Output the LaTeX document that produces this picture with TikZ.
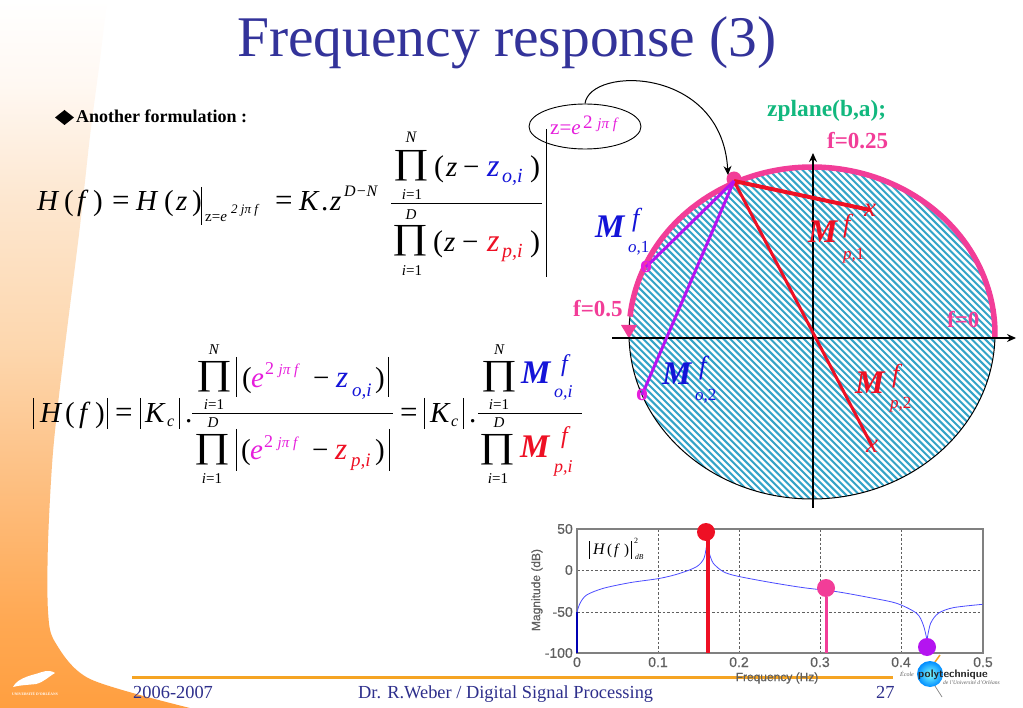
\documentclass[tikz,border=0pt]{standalone}
\usepackage{fontspec}
\setmainfont{Liberation Serif}
\newfontfamily\sansf[BoldFont=Liberation Sans,BoldFeatures={FakeBold=0.5}]{Liberation Sans}
\usetikzlibrary{arrows.meta,shapes.geometric}
\definecolor{ttl}{HTML}{33339A}
\definecolor{mg}{HTML}{E61EDC}
\definecolor{bl}{HTML}{1414D8}
\definecolor{rd}{HTML}{EE1024}
\definecolor{pk}{HTML}{F23D98}
\definecolor{pu}{HTML}{B414F0}
\definecolor{gn}{HTML}{12B87E}
\definecolor{ht}{HTML}{34A4C8}
\definecolor{nv}{HTML}{2E2F8C}
\definecolor{og}{HTML}{F5A423}
\definecolor{gy}{HTML}{606060}
\definecolor{bga}{HTML}{FF9F40}
\definecolor{bgc}{HTML}{FFA852}
\definecolor{bgd}{HTML}{FDC48B}
\definecolor{bge}{HTML}{FDD6AC}
\definecolor{bgf}{HTML}{FDE7D0}
\definecolor{bgg}{HTML}{FFF8F2}
\pgfdeclareverticalshading{slidebg}{100bp}{color(0bp)=(bga); color(25bp)=(bga); color(31bp)=(bgc); color(43bp)=(bgd); color(50bp)=(bge); color(61bp)=(bgf); color(69bp)=(bgg); color(75bp)=(white); color(100bp)=(white)}
\pgfdeclarelayer{top}
\pgfsetlayers{main,top}
\newcommand\tx[6][base west]{\node[anchor=#1,inner sep=0pt,text=#5,font=\fontsize{#4}{#4}\selectfont] (#2) at (#3) {#6};}
\newcommand\ix[6][base west]{\node[anchor=#1,inner sep=0pt,text=#5,font=\fontsize{#4}{#4}\selectfont\itshape] (#2) at (#3) {#6};}
% product sign: name, centre x, baseline y
\newcommand\prd[3]{\node[anchor=base,inner sep=0pt,font=\fontsize{44}{44}\selectfont] (#1) at (#2,#3) {\scalebox{1}[0.8]{∏}};}
\tikzset{
  vbar/.style={line width=0.9pt,black},
  fracbar/.style={line width=0.9pt,black},
  axisline/.style={line width=1.2pt,black,-{Stealth[length=9pt,width=8pt]}},
  dotmark/.style={circle,inner sep=0pt,minimum size=18pt},
  polemark/.style={inner sep=0pt,text=rd,font=\fontsize{27}{27}\selectfont\itshape},
  zeromark/.style={inner sep=0pt,text=mg,font=\fontsize{24}{24}\selectfont\bfseries},
}
\begin{document}
\begin{tikzpicture}[x=1pt,y=-1pt]
\useasboundingbox (0,0) rectangle (1023,708);
% slide background
\fill[white] (0,0) rectangle (1023,708);
\shade[shading=slidebg]
  (0,0) -- (107,0) -- plot[smooth] coordinates {(100,60) (90,136) (80,226) (63,362) (53,452) (48,543) (48,611) (55,642) (90,679) (190,708)} -- (0,708) -- cycle;
% university logo
\fill[white] (13,687) .. controls (18,677) and (34,675) .. (42,672) .. controls (48,670) and (52,671) .. (55,673) .. controls (48,677) and (44,682) .. (36,684) .. controls (28,685) and (20,685) .. (13,687) -- cycle;
\tx[base]{ulogo}{35,695}{3.7}{white}{\bfseries UNIVERSITÉ D'ORLÉANS}
% title
\tx[base]{title}{507,57}{57.5}{ttl}{Frequency response (3)}
% bullet
\fill[black] (55,117.5) -- (64.5,110) -- (74,117.5) -- (64.5,125) -- cycle;
\tx{bullet}{76,123}{18}{black}{\bfseries Another formulation :}
% ---- equation 1
\ix{aH}{37,211}{29}{black}{H}
\tx{ap}{64,211}{29}{black}{(}
\ix{af}{77,211}{29}{black}{f}
\tx{aq}{93,211}{29}{black}{)}
\tx{ae}{112,211}{31}{black}{=}
\ix{bH}{136,211}{29}{black}{H}
\tx{bp}{164,211}{29}{black}{(}
\ix{bz}{176,211}{29}{black}{z}
\tx{bq}{192,211}{29}{black}{)}
\coordinate (ba) at (201.5,187); \coordinate (bb) at (201.5,225);
\draw[vbar] (ba) -- (bb);
\tx{sz}{205,222}{15}{black}{z=\itshape e}
\ix{ss}{231,214}{13}{black}{2 jπ f}
\tx{ce}{275,211}{31}{black}{=}
\ix{cK}{299,211}{29}{black}{K}
\tx{cd}{321,211}{29}{black}{.}
\ix{cz}{330,211}{29}{black}{z}
\ix{cs}{344,197}{16}{black}{D−N}
\coordinate (fa) at (391,203); \coordinate (fb) at (542,203);
\draw[fracbar] (fa) -- (fb);
\ix[base]{nN}{411,143}{16}{black}{N}
\prd{nP}{411}{173.5}
\ix[base]{ni}{412,200}{15}{black}{i\upshape =1}
\tx{np}{434,177}{30}{black}{(}
\ix{nz}{446,177}{29}{black}{z}
\tx{nm}{463,177}{29}{black}{−}
\ix{nzz}{487,177}{32}{bl}{z}
\ix{nsb}{502,183}{20}{bl}{o,i}
\tx{nq}{530,177}{30}{black}{)}
\ix[base]{dD}{411,220}{15}{black}{D}
\prd{dP}{410}{249}
\ix[base]{di}{412,276}{15}{black}{i\upshape =1}
\tx{dp}{433,252}{30}{black}{(}
\ix{dz}{444,252}{29}{black}{z}
\tx{dm}{462,252}{29}{black}{−}
\ix{dzz}{487,252}{32}{rd}{z}
\ix{dsb}{502,258}{20}{rd}{p,i}
\tx{dq}{530,252}{30}{black}{)}
\coordinate (va) at (546,129); \coordinate (vb) at (546,277);
\draw[vbar] (va) -- (vb);
% ellipse with z=e^..
\node[ellipse,draw=black,line width=0.9pt,minimum width=112pt,minimum height=45pt,inner sep=0pt] (ell) at (585,126.5) {};
\tx{ez}{550,135}{21}{mg}{z=\itshape e}
\ix{es}{583,129}{19}{mg}{\upshape 2\itshape\ \fontsize{15}{15}\selectfont jπ f}
% ---- equation 2
\coordinate (l1a) at (33.6,398); \coordinate (l1b) at (33.6,429);
\draw[vbar] (l1a) -- (l1b);
\ix{eH}{40,423}{29}{black}{H}
\tx{ep}{65,423}{29}{black}{(}
\ix{ef}{79,423}{29}{black}{f}
\tx{eq}{95,423}{29}{black}{)}
\coordinate (l2a) at (107.5,398); \coordinate (l2b) at (107.5,429);
\draw[vbar] (l2a) -- (l2b);
\tx{fe}{115,423}{31}{black}{=}
\coordinate (l3a) at (140,398); \coordinate (l3b) at (140,429);
\draw[vbar] (l3a) -- (l3b);
\ix{fK}{145,423}{29}{black}{K}
\ix{fc}{167,427}{16}{black}{c}
\coordinate (l4a) at (179,398); \coordinate (l4b) at (179,429);
\draw[vbar] (l4a) -- (l4b);
\tx{fd}{185,423}{29}{black}{.}
\coordinate (g1) at (192,413); \coordinate (g2) at (393,413);
\draw[fracbar] (g1) -- (g2);
\ix[base]{gN}{214,355}{15}{black}{N}
\prd{gP}{214}{385}
\ix[base]{gi}{214,410}{15}{black}{i\upshape =1}
\coordinate (l5a) at (236,357); \coordinate (l5b) at (236,397);
\draw[vbar] (l5a) -- (l5b);
\tx{gp}{242,388}{29}{black}{(}
\ix{ge}{251,388}{29}{mg}{e}
\ix{gs}{265,375}{18}{mg}{\upshape 2\itshape\ \fontsize{15}{15}\selectfont jπ f}
\tx{gm}{313,388}{29}{black}{−}
\ix{gz}{336,388}{31}{bl}{z}
\ix{gb}{352,397}{19}{bl}{o,i}
\tx{gq}{375,388}{29}{black}{)}
\coordinate (l6a) at (388,357); \coordinate (l6b) at (388,397);
\draw[vbar] (l6a) -- (l6b);
\ix[base]{hD}{213,428}{15}{black}{D}
\prd{hP}{212}{457}
\ix[base]{hi}{212,483}{15}{black}{i\upshape =1}
\coordinate (l7a) at (236,429); \coordinate (l7b) at (236,471);
\draw[vbar] (l7a) -- (l7b);
\tx{hp}{241,460}{29}{black}{(}
\ix{he}{250,460}{29}{mg}{e}
\ix{hs}{264,447}{18}{mg}{\upshape 2\itshape\ \fontsize{15}{15}\selectfont jπ f}
\tx{hm}{312,460}{29}{black}{−}
\ix{hz}{335,460}{31}{rd}{z}
\ix{hb}{351,467}{19}{rd}{p,i}
\tx{hq}{375,460}{29}{black}{)}
\coordinate (l8a) at (389,429); \coordinate (l8b) at (389,471);
\draw[vbar] (l8a) -- (l8b);
\tx{ie}{400,423}{31}{black}{=}
\coordinate (l9a) at (424,398); \coordinate (l9b) at (424,429);
\draw[vbar] (l9a) -- (l9b);
\ix{iK}{430,423}{29}{black}{K}
\ix{ic}{451,427}{16}{black}{c}
\coordinate (l10a) at (463,398); \coordinate (l10b) at (463,429);
\draw[vbar] (l10a) -- (l10b);
\tx{id}{469,423}{29}{black}{.}
\coordinate (j1) at (478,413); \coordinate (j2) at (582,413);
\draw[fracbar] (j1) -- (j2);
\ix[base]{jN}{499,355}{15}{black}{N}
\prd{jP}{499}{385}
\ix[base]{ji}{499,410}{15}{black}{i\upshape =1}
\ix{jM}{521,384}{33}{bl}{\bfseries M}
\ix{jf}{561,372}{24}{bl}{f}
\ix{jb}{554,398}{18}{bl}{o,i}
\ix[base]{kD}{499,428}{15}{black}{D}
\prd{kP}{497}{457}
\ix[base]{ki}{498,483}{15}{black}{i\upshape =1}
\ix{kM}{520,457}{33}{rd}{\bfseries M}
\ix{kf}{561,443}{24}{rd}{f}
\ix{kb}{554,472}{18}{rd}{p,i}
% ---- z plane
\begin{scope}
\clip (812,333.5) ellipse [x radius=183pt,y radius=165.5pt];
\foreach \c in {130,136.7,...,830} {
  \draw[ht,line width=2pt] (\c+160,160) -- (\c+510,510);
}
\end{scope}
\draw[black,line width=1pt] (812,333.5) ellipse [x radius=183pt,y radius=165.5pt];
\coordinate (hl) at (612,338); \coordinate (hr) at (1016,338);
\coordinate (vt) at (813,153); \coordinate (vbt) at (813,508);
\draw[pk,line width=5.5pt] plot[domain=-1.5:174,samples=90] ({812+183*cos(\x)},{334-167*sin(\x)});
\fill[pk] (621,325) -- (637,325) -- (629,338.5) -- cycle;
\draw[axisline] (hl) -- (hr);
\draw[axisline] (vbt) -- (vt);
\node[circle,fill=pk,inner sep=0pt,minimum size=15pt] (pt) at (734,179) {};
\coordinate (ptc) at (734,181);
\begin{pgfonlayer}{top}
\node[polemark] (p1) at (870,210) {x};
\node[polemark] (p2) at (872,446) {x};
\node[zeromark] (z1) at (646,267) {o};
\node[zeromark] (z2) at (642,395) {o};
\end{pgfonlayer}
\draw[rd,line width=4pt] (ptc) -- (p1.center);
\draw[rd,line width=3pt] (ptc) -- (p2.center);
\draw[pu,line width=3pt] (ptc) -- (z1.center);
\draw[pu,line width=3pt] (ptc) -- (z2.center);
\coordinate (tip) at (728,175);
\draw[black,line width=1pt,-{Stealth[length=9pt,width=8pt]}] (ell.north) .. controls (590,66) and (722,66) .. (tip);
\tx{zp}{767,117}{23.4}{gn}{\bfseries zplane(b,a);}
\tx{f25}{827,149}{23}{pk}{\bfseries f=0.25}
\tx{f5}{573,317}{23}{pk}{\bfseries f=0.5}
\tx{f0}{947,328}{23}{pk}{\bfseries f=0}
\ix{m1}{595,238}{33}{bl}{\bfseries M}
\ix{m1f}{632,227}{26}{bl}{f}
\ix{m1b}{628,253}{17}{bl}{o,\upshape 1}
\ix{m2}{808,243}{33}{rd}{\bfseries M}
\ix{m2f}{843,233}{26}{rd}{f}
\ix{m2b}{843,260}{17}{rd}{p,\upshape 1}
\ix{m3}{662,385}{33}{bl}{\bfseries M}
\ix{m3f}{699,375}{26}{bl}{f}
\ix{m3b}{695,401}{17}{bl}{o,\upshape 2}
\ix{m4}{855,394}{33}{rd}{\bfseries M}
\ix{m4f}{892,383}{26}{rd}{f}
\ix{m4b}{890,409}{17}{rd}{p,\upshape 2}
% ---- magnitude plot
\draw[gy,line width=0.9pt,dash pattern=on 2.5pt off 2pt] (658,529) -- (658,653) (739,529) -- (739,653) (820,529) -- (820,653) (901,529) -- (901,653) (577,570) -- (983,570) (577,612) -- (983,612);
\draw[gray,line width=1.6pt] (577,653) -- (577,529) -- (983,529) -- (983,653) -- cycle;
\begin{scope}[shift={(520,515)},x=0.3333pt,y=-0.3333pt]
\draw[blue!70!white,line width=0.8pt] plot[smooth,tension=0.5] coordinates {(170,295) (180,265) (200,240) (250,220) (330,203) (420,190) (480,175) (530,155) (552,130) (560,90)};
\draw[blue!70!white,line width=0.8pt] plot[smooth,tension=0.5] coordinates {(568,115) (580,145) (610,170) (650,183) (750,202) (850,218) (950,230) (1050,248) (1130,265) (1190,295) (1210,330) (1220,370)};
\draw[blue!70!white,line width=0.8pt] plot[smooth,tension=0.5] coordinates {(1222,370) (1232,325) (1255,295) (1300,278) (1388,268)};
\end{scope}
\draw[blue!70!black,line width=1.5pt] (577,612) -- (577,653);
\node[dotmark,fill=rd] (dr) at (706,532) {};
\node[dotmark,fill=pk] (dp) at (826,588) {};
\node[dotmark,fill=pu] (dv) at (927,647) {};
\coordinate (sr) at (708,653); \coordinate (sp) at (826,653); \coordinate (srt) at (708,532);
\draw[rd,line width=3.4pt] (srt) -- (sr);
\draw[pk,line width=3pt] (dp) -- (sp);
% plot labels
\coordinate (m1a) at (589,541); \coordinate (m1z) at (589,559);
\draw[black,line width=0.6pt] (m1a) -- (m1z);
\ix{pH}{593,554}{16}{black}{H}
\tx{pp}{607,554}{15}{black}{(}
\ix{pf}{614,554}{15}{black}{f}
\tx{pq}{624,554}{15}{black}{)}
\coordinate (m2a) at (631,541); \coordinate (m2z) at (631,559);
\draw[black,line width=0.6pt] (m2a) -- (m2z);
\tx{p2s}{634,543}{8}{black}{2}
\ix{pdb}{635,559}{7.5}{black}{dB}
\tikzset{tick/.style={anchor=east,inner sep=0pt,text=gy,font=\sansf\bfseries\fontsize{14}{14}\selectfont}}
\tikzset{xtick/.style={anchor=base,inner sep=0pt,text=gy,font=\sansf\bfseries\fontsize{14}{14}\selectfont}}
\node[tick] (y1) at (573,529) {50};
\node[tick] (y2) at (573,570) {0};
\node[tick] (y3) at (573,612) {-50};
\node[tick] (y4) at (573,653) {-100};
\node[xtick] (x0) at (577,667) {0};
\node[xtick] (x1) at (658,667) {0.1};
\node[xtick] (x2) at (739,667) {0.2};
\node[xtick] (x3) at (820,667) {0.3};
\node[xtick] (x4) at (901,667) {0.4};
\node[xtick] (x5) at (983,667) {0.5};
\node[rotate=90,inner sep=0pt,text=gy,font=\sansf\bfseries\fontsize{12}{12}\selectfont] (yl) at (537,590) {Magnitude (dB)};
% footer
\coordinate (fl) at (132,677); \coordinate (fr) at (893,677);
\draw[og,line width=3pt] (fl) -- (fr);
\node[inner sep=0pt,text=gy,font=\sansf\bfseries\fontsize{12}{12}\selectfont] (xl) at (777,678) {Frequency (Hz)};
\tx{fa1}{133,698}{18.4}{nv}{2006-2007}
\tx{fa2}{358,698}{18.4}{nv}{Dr. R.Weber / Digital Signal Processing}
\tx{fa3}{876,698}{18.4}{nv}{27}
% school logo
\coordinate (lo1) at (935,662); \coordinate (lo2) at (940,655);
\draw[og,line width=1.5pt] (lo1) -- (lo2);
\coordinate (lg1) at (935,686); \coordinate (lg2) at (942,697);
\draw[gray,line width=0.7pt] (lg1) -- (lg2);
\shade[inner color=cyan!50!white,outer color=blue!45!cyan] (930,674) circle [radius=13pt];
\node[anchor=base west,inner sep=0pt,text=black!85,font=\fontsize{11}{11}\selectfont\sffamily\bfseries] (poly) at (918,677) {polytechnique};
\ix{ecole}{900,676}{6}{gy}{École}
\ix{orl}{943,684}{5.5}{gy}{de l'Université d'Orléans}
\end{tikzpicture}
\end{document}
